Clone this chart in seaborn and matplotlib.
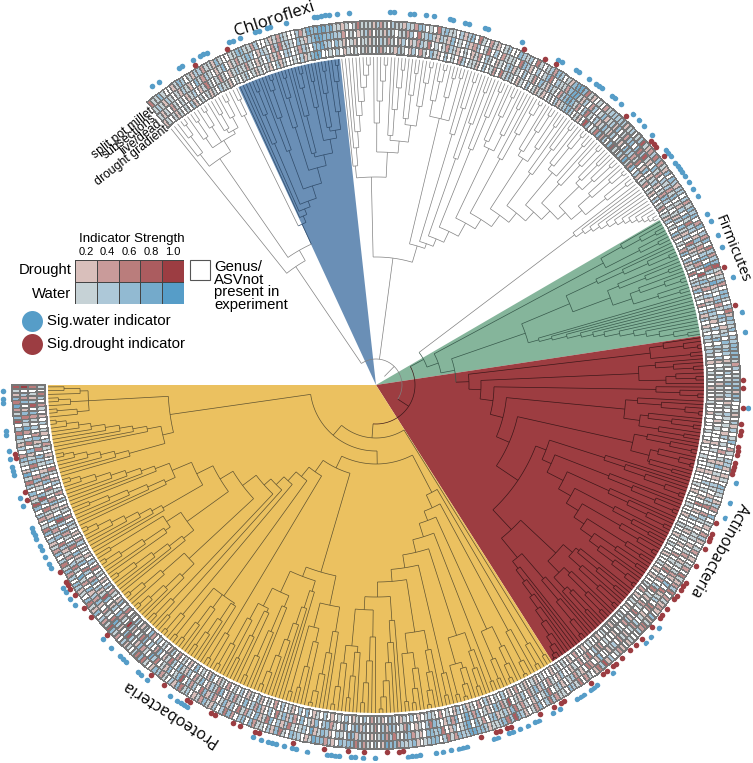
import re
import numpy as np
import matplotlib
matplotlib.use('Agg')
import matplotlib.pyplot as plt
from matplotlib.collections import LineCollection
from matplotlib.colors import ListedColormap
from matplotlib.patches import Rectangle
import seaborn as sns

sns.set_style('white')
plt.rcParams['font.family'] = ['Liberation Sans', 'DejaVu Sans']
plt.rcParams['text.color'] = 'black'
plt.rcParams['xtick.color'] = 'black'

# indicator strength per tip: . absent, 1-5 water 0.2-1.0, a-e drought 0.2-1.0
ring_split_pot = """
c1131..a13 2.1a22b11a 31..113311 b2..1a1b21 ..2b143344
3411a1.1c1 11a2b1.211 a21b32.1.c 2311.2a23. c1.b1a.12.
.3212.c1.1 2b32.1a344 3c1a.1.b12 2222a12.12 d1ab2c3b1a
3.32a22.2b 1323.b3.2b 3.c2b23d1a 13b.331.2c a3213.2233
331b2.1223 a32..1a.2a 2.13.b1.22 a.a1.321.a 2b.3.1a.b2
a.1b.a.1b. c1ab2c.b1a ba.3a1cb2. .1a.ab1.2a d2ca.1b.c1
23.11b2c2. 3b1.a23d2c 3211a23344 223b1c2.33 21.a3212b3
34a.2.1b2c 3323.a2b33 41a.223.1c 3a2.11b3.3 2.b3c2.2a1
3b1a.21c3a 2.1b23a.1c 3c2.1a2.b1 3d1b2.3a1c 3.1a23.2b3
1c2.3b1a2. 3c1.b2.3d1 a3.2c14a.1 3b.2a13c2. d31b4c3a1d
"""
ring_subsections = """
121a21.1a2 1a.31b21.a 13.a1b1232 .a21.b2c12 1.31a23443
3322b.1.a1 2b.11a21.1 1b2.c1231a 21a3.1.2ab 2.1c.2.b11
1.c32a.2.1 3c.211b344 1a2.b2.13a 12a3.1b23. 3c2d1a.31b
.212b13.1a 2.31c22.a3 1ba23.4c2. 14a1.23b1. 32.a12.313
2.a1.2.13. 12.a1.21.1 .a2.1.b.1a 3.1a.21.a2 1c.b21.a.1
1.a.1b.a1. 1ba.3.ca12 .cb.a1.2b1 .a1b.21a.. 3a.bc.a1b2
1.a21.c31. 2a.1b1c3a2 1a32.b13.4 31.2a.c323 3.a1b32.1c
2b31.a.12a 33.12.a231 a4.21.1c2a 2.3c1a3.2b 1c.2a31.b2
a3c.2b2.d3 1.3a1.c24. 1b3a.2d3.a 24c.1b.a3b 2a3.b14.1c
2.b1a2c.31 b2.3a1c.2d 3.1a3b.2c3 1a3.c2.b41 2c3a.3b2.e
"""
ring_live_dead = """
1a1.b1.1.a 12.a1c1.1b 1.a1211b1. a1.2a1b.22 .1b21.3342
2.31a.1a.1 1a1.21b1.a 2.a1b21c.1 .1b21a.1.a 1b.21.a1.2
2a1.2.1b.3 1a21.b2343 1b.2c1.2a1 31a2.1a.32 2b1c.a3.a1
2a.1b32.1. 1a2.31a2.c 2a1.3b2.d1 31b.2a1.32 1a.2.13.21
.2a.1.2.a1 .1a...1.a. 1...a.1..a 1.a..2.1.a .c.a.2..1a
.1.a..b.1. ac.1b.2c.1 a.b1.c.a2b .1.a..1.ba 2.ca.b.1a.
.2a.1b.2a3 1b.2a1.d1b 23.a1.3b24 1.3b2a.23c 2.1a.3b1.2
3a2.b1.2a3 2.3a.1b32. 3a1.3.b2a3 1c.2.a3b2. 3.1b2a.3c1
2a.31b.2a1 3.2c1a.3b. 2.3c1.a2e. 1b3.2a.3d1 a2.3b.2c.3
1a3.c2.1b3 .2d3.1a3b. 1c.3b2a.12 3.c1a3b.2. 1b3.d2a1.c
"""
ring_drought_gradient = """
a1.1a1.1.2 a.1.1a1.21 1a.1.12.1a 1.1a.2a1.. 1.2a1344..
1.2.a1.1.1 a1.2b1.1a2 1.a2.b1.31 a.2.1.b2.1 1a.2.1b.c1
21.a1.2.1a 1a.1.2a123 2.1a.d2.1c 3b2.3d1.2a 41b3.2a.1b
.1a.2.1b.1 a2.1.3a.1. b3.2a1.c.1 2a3.1.b.2a 2.a1.21.12
1.a..1.1.a ...1..a... .1..a...1. ..a...1.a. ..1..a..1.
.a..1..a.. 1.a.a..1.b .a.1.a..1. ..a..1.a.. 1.a..b.a.1
.1.a..1.a1 .a1.b.a.2. 1.a2.b.1a2 .2a.1.b.12 1.a.2.1a.1
2.a1.b.2.1 a.2.1.a.2. 1a.3.2.a1. 2.b.1.a2.1 a.2.1.b.1a
.2a.1.3.a. 1.b.2a.1.2 .b3.1a.2.1 .c1.3a.1b. 2.a.1.c.2.
a.1.2b.a.1 2.c.1a.2.b 1.2a.1c.2. a.1b2.a1.2 .a.1b.2c.1
"""

# tips with a significant indicator, numbered clockwise from the ring labels
water_sig = [3, 5, 11, 12, 15, 17, 18, 19, 25, 26, 28, 32, 33, 35, 36, 40, 47, 48, 49, 50, 51, 53, 56,
             66, 67, 71, 72, 75, 77, 81, 82, 85, 86, 90, 91, 100, 110, 111, 115, 116, 119, 121, 122, 123,
             126, 127, 129, 133, 135, 137, 140, 145, 146, 147, 149, 150, 151, 152, 153, 155, 157, 159,
             164, 166, 170, 173, 181, 190, 195, 214, 233, 238, 242, 274, 277, 279, 290, 295, 296, 297,
             299, 300, 301, 306, 308, 312, 313, 315, 317, 319, 320, 323, 324, 331, 332, 333, 335, 337,
             339, 343, 344, 345, 346, 354, 357, 359, 360, 363, 364, 365, 366, 371, 374, 375, 377, 379,
             380, 381, 383, 385, 403, 404, 405, 406, 408, 415, 417, 418, 422, 423, 424, 427, 430, 441,
             443, 445, 446, 452, 453, 455, 457, 458, 460, 461, 462, 463, 469, 471, 477, 478, 479, 481,
             483, 487, 488, 495, 496, 498]
drought_sig = [15, 24, 101, 107, 110, 132, 141, 142, 143, 146, 178, 188, 207, 209, 214, 218, 220, 221,
               224, 225, 226, 228, 229, 230, 231, 244, 247, 248, 249, 251, 256, 261, 262, 263, 265, 266,
               269, 271, 272, 275, 279, 281, 283, 286, 288, 289, 291, 292, 296, 304, 305, 307, 311, 319,
               320, 322, 323, 327, 347, 348, 351, 357, 361, 367, 375, 384, 385, 389, 391, 396, 397, 403,
               404, 411, 415, 430, 436, 439, 443, 445, 446, 447, 450, 470, 472, 481, 482]

# tree per clade: * tip, (children)node radius, [r1 r2 ...] one-tip-per-node ladder
white_left_a = "*"
white_left_b = "([290 310 322]([300 318][306 322]([296 312][304 320])292)288)275"
white_left_c = "[300 316]"
blue_tree = ("(*(*([262 292 316]([250 284 312 322]([270 300 320]([240 278 306 320]([284 310]"
             "([262 296 318][276 306 322])258)250)236)225)209)196)190)184")
g94 = "[220 238 254 270 284 298 310 320]"
g86 = "([262 284 304 320]([250 276 298 316]([268 292 314][282 306 322])262)245)233"
g75 = "([290 310 322][296 316](**)318)274"
g72 = "[262 290 318]"
chain = ("([240 278 312]([254 290 318](([268 296 318][280 310])262([258 288 312 324](([276 300 320][286 314])270"
         "([262 294 320](([282 306 322](**)316)276([272 300 322](([290 312][298 320])284"
         "([286 310 324][296 320])270)256)246)234)222)210)196)185)170)158")
white_main = f"(({g94}{g86})208({g75}({g72}{chain})150)145)128"
white_edge = "[249 258 266 274 282 290 297 303 309 314 319 323]"
green_top = "([282 302 318][296 316])258"
green_low = ("(([244 272 298 320]([262 290 314]([280 306 322][296 318])270)250)210"
             "[169 182 197 211 223 234 249 263 275 288 302 316])158")

r_g1 = "([290 310 324](**)316)276"
r_g2 = "([280 298 318]([300 320]*)290)263"
r_g3 = "[280 304 322]"
r_g4 = "([262 286 310 324]([274 298 320][286 312])266)250"
r_g5 = "([276 300 322]([290 312 324][284 308])282)263"
r_ladder_a = ("([240 262 284 306 322]([250 276 302 322]([256 278 300 320]([268 290 310]([282 304 322]"
              "([296 314]([290 316][276 296 314 324])264)250)238)224)210)192)182")
r_g7 = "(([262 288 312][274 300 322])258([270 296 318]([284 308]*)278)262)246"
r_ladder_b = "([256 282 306 322][232 246 262 276 290 304 314 322 326])223"
red_tree = f"({r_g1}({r_g2}({r_g3}({r_g4}({r_g5}({r_ladder_a}({r_g7}{r_ladder_b})198)171)145)131)118)105)93"

r8 = "([236 258 278 296 312 324]([252 276 298 318]([268 292 314][280 304 322])262)225)212"
ya = ("([300 322]([279 312 325](([290 308 322][298 318])268((**)318(([282 300 318]([296 312 324](**)320)290)263"
      "([296 318](([270 292 310 324]([286 306 320](**)318)270)250" + r8 + ")197)185)172)159)145)135)121")
c109 = ("(([250 272 294 312 324]([264 290 312](**)318)250)225"
        "([216 234 252 270 288 306 320]([240 268 296 318]([252 280 306][266 296 320])248)228)205)195")
r182 = ("(([246 262 280 300 320]([256 280 306 322](**)312)250)233"
        "([246 257 270 284 298 312 322]([232 250 270 290 310][236 250 265 280 295 310 320])221)200)182")
c131 = ("(([262 282 300 316][276 298 318](**)320)260([300 322]((**)310([296 318]"
        "(([272 292 310 322][284 306 322])255" + r182 + ")167)150)141)130)118")
left = "(([256 270 284 297 310 320][233 247 260 274 288 300 312 322])219([300 320][306 318][296 312])288)208"
yellow_tree = f"((**)318(({ya}({c109}([290 320]{c131})106)92)79{left})66)53"

clade_names = ['white_left', 'blue', 'white_main', 'white_edge', 'green', 'red', 'yellow']
clade_edges = [129, 114.8, 96.3, 38, 30.2, 8.6, -57.5, -180]
sector_colors = {1: '#6a8fb6', 4: '#85b59b', 5: '#9d3d41', 6: '#ebc160'}
line_colors = {1: '#2f4a68', 4: '#36584a', 5: '#3c1719', 6: '#5e5230'}

water_colors = ['#c6d2d6', '#adc8d8', '#92bad2', '#74aacb', '#569dc8']
drought_colors = ['#d9bfbb', '#c99b9a', '#ba7d7c', '#ab5c5f', '#9c3d42']
code_map = '.12345abcde'
cell_cmap = ListedColormap(['#ffffff'] + water_colors + drought_colors)

TIP_R = 328
n_tips = 500
ring_r = [331, 339.5, 348, 356, 364]


def expand_ladder(text):
    def rep(m):
        inner = '*'
        for r in m.group(1).split()[::-1]:
            inner = f'(*{inner}){r}'
        return inner
    return re.sub(r'\[([\d ]+)\]', rep, text)


def ring_codes(text):
    s = ''.join(text.split()).ljust(n_tips, '.')[:n_tips]
    return [code_map.index(c) for c in s]


def tree_segments(text, tip_theta):
    segs = []
    pos = 0
    tip = 0

    def read():
        nonlocal pos, tip
        if text[pos] == '*':
            pos += 1
            tip += 1
            return tip_theta[tip - 1], TIP_R
        pos += 1
        kids = []
        while text[pos] != ')':
            kids.append(read())
        num = re.match(r'\d+', text[pos + 1:]).group()
        pos += 1 + len(num)
        r = float(num)
        th = (kids[0][0] + kids[-1][0]) / 2
        for t, rc in kids:
            segs.append(np.column_stack([[t, t], [r, rc]]))
        arc = np.linspace(kids[0][0], kids[-1][0], 40)
        segs.append(np.column_stack([arc, np.full(40, r)]))
        return th, r

    th, r = read()
    segs.append(np.column_stack([[th, th], [12, r]]))
    return segs


def seg_color(seg):
    th = np.degrees(seg[:, 0].mean())
    for i in sector_colors:
        if clade_edges[i + 1] <= th <= clade_edges[i]:
            return line_colors[i]
    return '#808080'


clades = {
    'white_left': expand_ladder(white_left_a + white_left_b + white_left_c),
    'blue': expand_ladder(blue_tree),
    'white_main': expand_ladder(white_main),
    'white_edge': expand_ladder(white_edge),
    'green': expand_ladder(green_top + green_low),
    'red': expand_ladder(red_tree),
    'yellow': expand_ladder(yellow_tree),
}
tip_deg = []
for i, name in enumerate(clade_names):
    n = clades[name].count('*')
    e = np.linspace(clade_edges[i], clade_edges[i + 1], n + 1)
    tip_deg.extend((e[:-1] + e[1:]) / 2)
tip_theta = np.radians(tip_deg)

# backbone joins the clades
full_tree = expand_ladder(
    f"(({white_left_a}({white_left_b}({white_left_c}{blue_tree})177)155)143{white_main}"
    f"(({white_edge}({green_top}({green_low}{red_tree})80)66)54{yellow_tree})39)26"
)

fig = plt.figure(figsize=(7.53, 7.63), dpi=100)
ax = fig.add_axes([0, 2 / 763, 752 / 753, 752 / 763], projection='polar')

for i, color in sector_colors.items():
    lo, hi = np.radians(clade_edges[i + 1]), np.radians(clade_edges[i])
    ax.bar((lo + hi) / 2, TIP_R, width=hi - lo, bottom=0, color=color, linewidth=0)

segs = tree_segments(full_tree, tip_theta)
ax.add_collection(LineCollection(segs, colors=[seg_color(s) for s in segs], linewidths=0.5))

ring_matrix = np.array([ring_codes(ring_drought_gradient), ring_codes(ring_live_dead),
                        ring_codes(ring_subsections), ring_codes(ring_split_pot)])
theta_edges = np.radians(np.linspace(clade_edges[0], clade_edges[-1], n_tips + 1))
ax.pcolormesh(theta_edges, ring_r, ring_matrix, cmap=cell_cmap, vmin=-0.5, vmax=10.5,
              edgecolors='#777777', linewidth=0.18, shading='flat')

cell_theta = (theta_edges[:-1] + theta_edges[1:]) / 2
sns.scatterplot(x=cell_theta[water_sig], y=np.full(len(water_sig), 373.0), color=water_colors[4],
                s=16, linewidth=0, ax=ax, legend=False)
sns.scatterplot(x=cell_theta[drought_sig], y=np.full(len(drought_sig), 367.5), color=drought_colors[4],
                s=16, linewidth=0, ax=ax, legend=False)
ax.set_ylim(0, 376)
ax.set_axis_off()

# legend and labels, placed in picture pixels
ov = fig.add_axes([0, 0, 1, 1])
ov.set_xlim(0, 753)
ov.set_ylim(763, 0)
ov.set_axis_off()

clade_labels = [('Chloroflexi', 274, 19, 18, 12), ('Firmicutes', 732, 249, -68, 10.6),
                ('Actinobacteria', 719, 550, -119, 11.2), ('Proteobacteria', 170, 713, 147.5, 11.5)]
for label, x, y, rot, size in clade_labels:
    ov.text(x, y, label, rotation=rot, fontsize=size, ha='center', va='center',
            rotation_mode='anchor', family='Open Sans')

ring_labels = [('split pot millet', 152, 110), ('subsections', 155, 117),
               ('live/dead', 160, 122), ('drought gradient', 167, 128)]
for label, x, y in ring_labels:
    ov.text(x, y, label, rotation=38, fontsize=8.8, ha='right', va='center', rotation_mode='anchor')

ov.text(79, 239, 'Indicator Strength', fontsize=9.6, ha='left', va='center')
ov.text(72, 270, 'Drought', fontsize=10.7, ha='right', va='center')
ov.text(71, 294, 'Water', fontsize=10.7, ha='right', va='center')
ov.add_patch(Rectangle((190, 260), 20, 20, facecolor='white', edgecolor='#555555', linewidth=0.8))
ov.text(214, 286, 'Genus/\nASVnot\npresent in\nexperiment', fontsize=10.7, ha='left', va='center', linespacing=0.85)
legend_dots = [('Sig.water indicator', 321, water_colors[4]), ('Sig.drought indicator', 344, drought_colors[4])]
for label, y, color in legend_dots:
    sns.scatterplot(x=[32], y=[y], color=color, s=228, linewidth=0, ax=ov, legend=False)
    ov.text(47, y, label, fontsize=10.8, ha='left', va='center')
ov.set_xlim(0, 753)
ov.set_ylim(763, 0)
ov.set_axis_off()

strength_labels = ['0.2', '0.4', '0.6', '0.8', '1.0']
legend_rows = [[6, 7, 8, 9, 10], [1, 2, 3, 4, 5]]
hm = fig.add_axes([75 / 753, 1 - 304 / 763, 109 / 753, 44 / 763])
sns.heatmap(legend_rows, cmap=cell_cmap, vmin=-0.5, vmax=10.5, cbar=False, linewidths=0.6, linecolor='#444444',
            xticklabels=strength_labels, yticklabels=False, ax=hm)
hm.xaxis.tick_top()
hm.tick_params(axis='x', length=0, pad=2, labelsize=8, labelrotation=0)

fig.savefig('out.png', dpi=100)
